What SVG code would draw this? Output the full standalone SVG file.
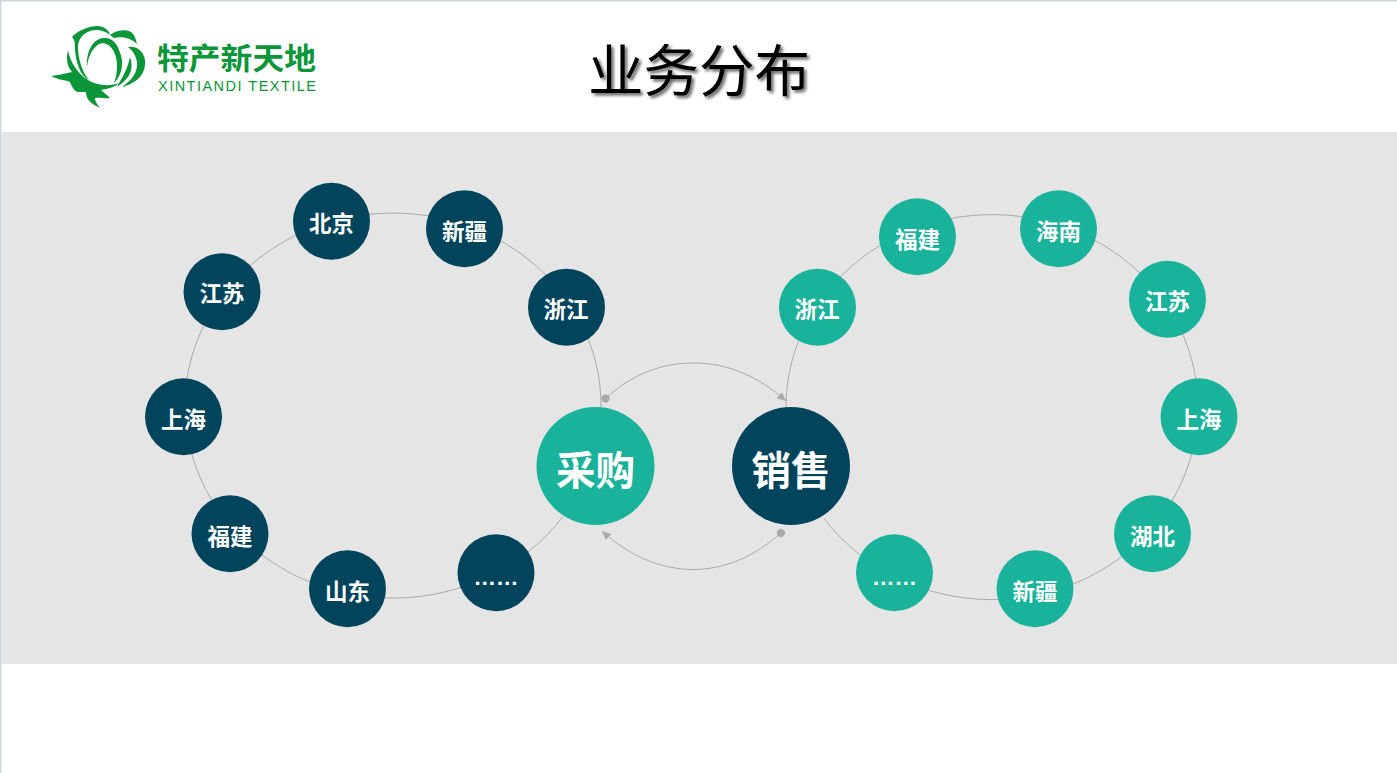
<svg xmlns="http://www.w3.org/2000/svg" width="1397" height="773" viewBox="0 0 1397 773">
<style>
text{font-family:"Noto Sans CJK SC","Liberation Sans",sans-serif;text-anchor:middle}
.n text{fill:#fff;font-size:22.500px;font-weight:700}
.b text{font-size:39.500px;fill:#fff;font-weight:700}
.d circle{fill:#01445c}
.t circle{fill:#19b39c}
.l{fill:none;stroke:#a9a9a9;stroke-width:1}
.g{fill:#0a9639}
</style>
<defs>
<filter id="sh" x="-10%" y="-20%" width="120%" height="140%"><feDropShadow dx="2.500" dy="2.500" stdDeviation="1.500" flood-color="#000" flood-opacity="0.6"/></filter>
<marker id="arr" markerWidth="10" markerHeight="10" refX="9" refY="4" orient="auto" markerUnits="userSpaceOnUse"><path d="M0 0L9 4L0 8Z" fill="#a9a9a9"/></marker>
<marker id="dot" markerWidth="10" markerHeight="10" refX="5" refY="5" orient="auto" markerUnits="userSpaceOnUse"><circle cx="5" cy="5" r="4" fill="#a9a9a9"/></marker>
</defs>
<rect width="1397" height="773" fill="#fff"/>
<path d="M0 .5H1397M.5 0V773" stroke="#ccd6dd" stroke-width="2" fill="none"/>
<rect x="2" y="132" width="1395" height="532" fill="#e5e5e5"/>

<g id="logo">
<path class="g" d="M72 37C78 30 90 26 97 26C104 26 109 30 110 35C104 30 96 29 90 31C82 34 78 40 78 47C78 58 82 72 89 80C80 76 76 62 75 50C75 44 75 40 72 37Z"/>
<path class="g" d="M87 67C86 50 94 38 104 38C113 37 119 45 122 60C123 70 119 78 114 83C118 72 118 60 114 52C110 44 104 42 99 44C92 48 88 57 87 67Z"/>
<path class="g" d="M110 35C116 30 126 29 131 32C135 35 136 40 137 44C131 38 122 36 114 38Z"/>
<path class="g" d="M128 47C136 46 143 50 145 60C146 72 140 82 122 87C132 80 138 72 137 62C136 55 132 50 128 47Z"/>
<path class="g" d="M130 57C134 68 131 78 117 87C122 78 128 68 130 57Z"/>
<path class="g" d="M68 50C66 60 67 66 72 72C64 74 58 75 51 76C58 80 66 80 70 82C72 87 74 91 78 92L86 92C86 98 89 103 100 108C96 103 95 100 95 98C100 97 106 99 110 98C106 94 103 92 101 90C108 89 114 87 120 83C108 87 96 85 88 80C78 74 70 62 68 50Z"/>
<text x="236.500" y="69" font-size="30" font-weight="700" fill="#0a9639" style="font-family:'Noto Sans CJK SC',sans-serif" textLength="159" lengthAdjust="spacingAndGlyphs">特产新天地</text>
<text x="237" y="91" font-size="14.500" fill="#0a9639" style="font-family:'Liberation Sans',sans-serif" textLength="158">XINTIANDI TEXTILE</text>
</g>

<text id="title" x="699" y="91" font-size="55.500" fill="#000" filter="url(#sh)" style="font-family:'Noto Sans CJK SC',sans-serif">业务分布</text>

<g id="connectors">
<path class="l" d="M601 407.500A208 192.500 0 1 0 563 516.500"/>
<path class="l" d="M786 407.500A206 192.500 0 1 1 824 518.500"/>
<path class="l" d="M605.500 398.500C632 374 662 363 693 363C728 363 758 376 786 401" marker-start="url(#dot)" marker-end="url(#arr)"/>
<path class="l" d="M781 533C754 557 724 569.500 693 569.500C660 569.500 628 555 602 531" marker-start="url(#dot)" marker-end="url(#arr)"/>
</g>

<g id="n-caigou" class="n b t"><circle cx="595.500" cy="466" r="59"/><text x="595.500" y="484.500">采购</text></g>
<g id="n-xiaoshou" class="n b d"><circle cx="791" cy="466" r="59"/><text x="791" y="484.500">销售</text></g>

<g id="l1" class="n d"><circle cx="566.500" cy="307.200" r="38.500"/><text x="566" y="318">浙江</text></g>
<g id="l2" class="n d"><circle cx="464.500" cy="228.700" r="38.500"/><text x="464.500" y="239.500">新疆</text></g>
<g id="l3" class="n d"><circle cx="331.500" cy="221.200" r="38.500"/><text x="331.500" y="232">北京</text></g>
<g id="l4" class="n d"><circle cx="222" cy="291.700" r="38.500"/><text x="222" y="302">江苏</text></g>
<g id="l5" class="n d"><circle cx="183.500" cy="416.700" r="38.500"/><text x="183.500" y="427.500">上海</text></g>
<g id="l6" class="n d"><circle cx="230" cy="533.700" r="38.500"/><text x="230" y="544.500">福建</text></g>
<g id="l7" class="n d"><circle cx="347.500" cy="588.700" r="38.500"/><text x="347.500" y="599.500">山东</text></g>
<g id="l8" class="n d"><circle cx="496" cy="572.700" r="38.500"/><text x="496" y="585" style="font-family:'Liberation Sans',sans-serif">……</text></g>

<g id="r1" class="n t"><circle cx="817.500" cy="307.200" r="38.500"/><text x="817" y="318">浙江</text></g>
<g id="r2" class="n t"><circle cx="917.500" cy="236.700" r="38.500"/><text x="917.500" y="247.500">福建</text></g>
<g id="r3" class="n t"><circle cx="1058.500" cy="228.700" r="38.500"/><text x="1058.500" y="239.500">海南</text></g>
<g id="r4" class="n t"><circle cx="1167.500" cy="299.200" r="38.500"/><text x="1167.500" y="310">江苏</text></g>
<g id="r5" class="n t"><circle cx="1199" cy="416.700" r="38.500"/><text x="1199" y="427.500">上海</text></g>
<g id="r6" class="n t"><circle cx="1152.500" cy="533.700" r="38.500"/><text x="1152.500" y="544.500">湖北</text></g>
<g id="r7" class="n t"><circle cx="1035" cy="588.700" r="38.500"/><text x="1035" y="599.500">新疆</text></g>
<g id="r8" class="n t"><circle cx="894.500" cy="572.700" r="38.500"/><text x="894.500" y="585" style="font-family:'Liberation Sans',sans-serif">……</text></g>
</svg>
